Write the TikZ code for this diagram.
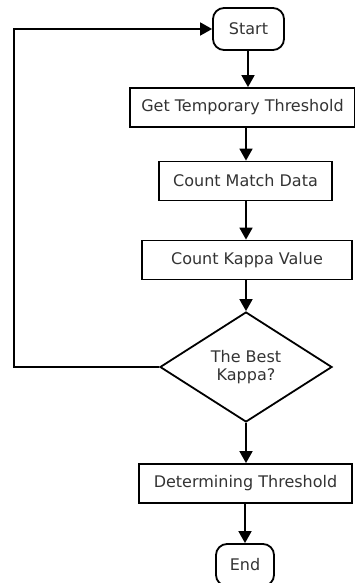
\documentclass[tikz,border=0pt]{standalone}
\usepackage{fontspec}
\setmainfont{DejaVu Sans}
\usetikzlibrary{shapes.geometric,arrows.meta}
\begin{document}
\begin{tikzpicture}[x=1pt,y=-1pt,
  every node/.style={font=\fontsize{16}{18}\selectfont, inner sep=0pt, line width=1.8pt, text=black!80},
  proc/.style={draw, rectangle, minimum height=39pt},
  term/.style={draw, rounded corners=11pt, minimum height=42pt},
  dec/.style={draw, diamond, aspect=1.56, minimum width=172pt, align=center},
  conn/.style={line width=1.8pt, -{Triangle[length=12pt,width=13pt]}}]
\useasboundingbox (0,0) rectangle (355,583);
\node[term, minimum width=71pt] (start) at (248.5,29) {Start};
\node[proc, minimum width=225pt] (b1) at (242.5,107.5) {Get Temporary Threshold};
\node[proc, minimum width=173pt] (b2) at (245.5,181) {Count Match Data};
\node[proc, minimum width=210pt] (b3) at (247,260) {Count Kappa Value};
\node[dec, minimum height=110pt, minimum width=172pt] (d) at (246,367) {The Best\\Kappa?};
\node[proc, minimum width=213pt] (b4) at (245.5,483.5) {Determining Threshold};
\node[term, minimum width=58pt] (end) at (245,565) {End};
\coordinate (c1) at (14,367);
\coordinate (c2) at (14,29);
\draw[conn] (start.south -| 248,0) -- (b1.north -| 248,0);
\draw[conn] (b1.south -| 246,0) -- (b2.north -| 246,0);
\draw[conn] (b2.south -| 246,0) -- (b3.north -| 246,0);
\draw[conn] (b3.south -| 246,0) -- (d.north);
\draw[conn] (d.south) -- (b4.north -| 246,0);
\draw[conn] (b4.south -| 245,0) -- (end.north);
\draw[conn] (d.west) -- (c1) -- (c2) -- (start.west);
\end{tikzpicture}
\end{document}
